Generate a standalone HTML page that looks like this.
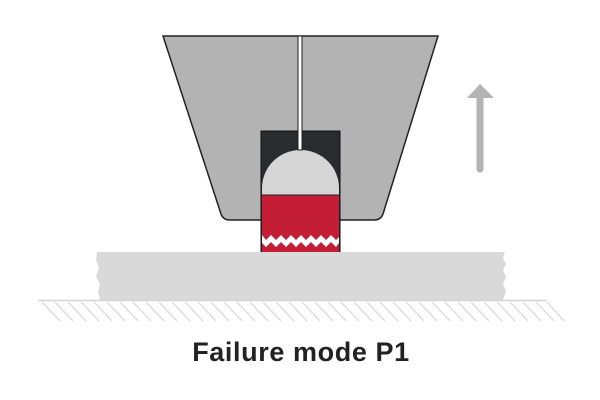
<!DOCTYPE html>
<html><head><style>body{margin:0;background:#fff}svg{display:block}</style></head><body>
<svg width="600" height="400" viewBox="0 0 600 400" xmlns="http://www.w3.org/2000/svg">
<path d="M163,36 L438,36 L383,214 Q381,220 374,220 L230,220 Q223,220 221,214 Z" fill="#b3b3b3" stroke="#222" stroke-width="1.5"/>
<rect x="261" y="131" width="79" height="121" fill="#2a2b2e" stroke="#111" stroke-width="1"/>
<path d="M262,195 L262,188 A38.5,38 0 0 1 339,188 L339,195 Z" fill="#d6d6d6"/>
<path d="M262,195 L339,195 L339,252 L262,252 Z" fill="#c41e36"/>
<line x1="262" y1="195" x2="339" y2="195" stroke="#222" stroke-width="1"/>
<path d="M262,235 L266,240 L271,235 L276,240 L281,235 L286,240 L291,235 L296,240 L301,235 L306,240 L311,235 L316,240 L321,235 L326,240 L331,235 L336,240 L339,237 L339,243 L336,247 L331,242 L326,247 L321,242 L316,247 L311,242 L306,247 L301,242 L296,247 L291,242 L286,247 L281,242 L276,247 L271,242 L266,247 L262,243 Z" fill="#fff"/>
<rect x="298" y="36" width="4" height="114" fill="#fff" stroke="#222" stroke-width="1"/>
<path d="M97,252 L505,252 L503,258 L506,264 L503,270 L506,277 L503,284 L506,291 L503,300 L100,300 L98,292 L100,284 L96,276 L99,268 L96,260 Z" fill="#d9d9d9"/>
<line x1="38" y1="300.5" x2="547" y2="300.5" stroke="#d4d4d4" stroke-width="1.5"/>
<g stroke="#d6d6d6" stroke-width="1.2">
<line x1="42" y1="302" x2="60" y2="321"/><line x1="55" y1="302" x2="73" y2="321"/><line x1="68" y1="302" x2="86" y2="321"/><line x1="81" y1="302" x2="99" y2="321"/><line x1="94" y1="302" x2="112" y2="321"/><line x1="107" y1="302" x2="125" y2="321"/><line x1="120" y1="302" x2="138" y2="321"/><line x1="133" y1="302" x2="151" y2="321"/><line x1="146" y1="302" x2="164" y2="321"/><line x1="159" y1="302" x2="177" y2="321"/><line x1="172" y1="302" x2="190" y2="321"/><line x1="185" y1="302" x2="203" y2="321"/><line x1="198" y1="302" x2="216" y2="321"/><line x1="211" y1="302" x2="229" y2="321"/><line x1="224" y1="302" x2="242" y2="321"/><line x1="237" y1="302" x2="255" y2="321"/><line x1="250" y1="302" x2="268" y2="321"/><line x1="263" y1="302" x2="281" y2="321"/><line x1="276" y1="302" x2="294" y2="321"/><line x1="289" y1="302" x2="307" y2="321"/><line x1="302" y1="302" x2="320" y2="321"/><line x1="315" y1="302" x2="333" y2="321"/><line x1="328" y1="302" x2="346" y2="321"/><line x1="341" y1="302" x2="359" y2="321"/><line x1="354" y1="302" x2="372" y2="321"/><line x1="367" y1="302" x2="385" y2="321"/><line x1="380" y1="302" x2="398" y2="321"/><line x1="393" y1="302" x2="411" y2="321"/><line x1="406" y1="302" x2="424" y2="321"/><line x1="419" y1="302" x2="437" y2="321"/><line x1="432" y1="302" x2="450" y2="321"/><line x1="445" y1="302" x2="463" y2="321"/><line x1="458" y1="302" x2="476" y2="321"/><line x1="471" y1="302" x2="489" y2="321"/><line x1="484" y1="302" x2="502" y2="321"/><line x1="497" y1="302" x2="515" y2="321"/><line x1="510" y1="302" x2="528" y2="321"/><line x1="523" y1="302" x2="541" y2="321"/><line x1="536" y1="302" x2="554" y2="321"/><line x1="547" y1="302" x2="564" y2="321"/>
</g>
<line x1="480" y1="97" x2="480" y2="169" stroke="#b3b3b3" stroke-width="7" stroke-linecap="round"/>
<path d="M467,98 L480,84 L494,98 Z" fill="#b3b3b3"/>
<text x="301" y="361" text-anchor="middle" font-family="Liberation Sans, sans-serif" font-weight="bold" font-size="27" letter-spacing="0.6" fill="#222">Failure mode P1</text>
</svg>
</body></html>
